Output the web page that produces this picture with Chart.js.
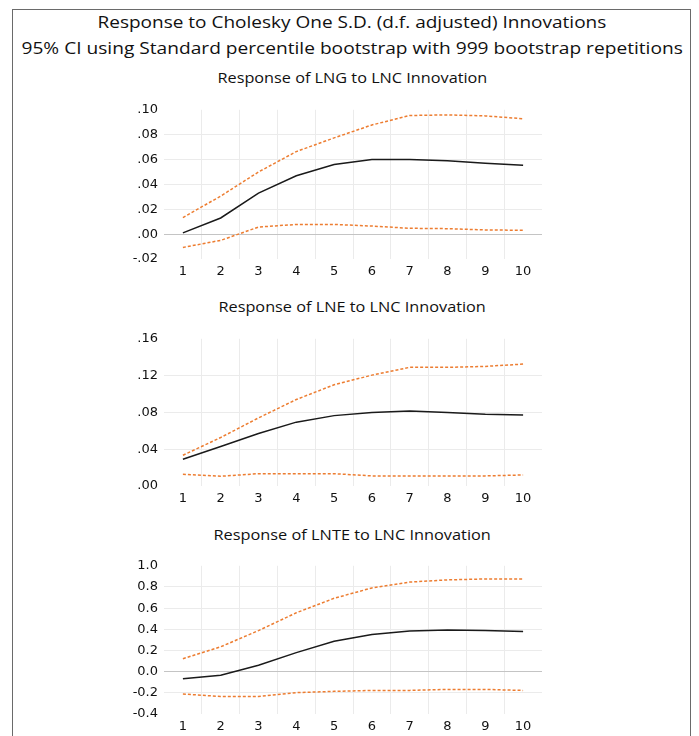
<!DOCTYPE html>
<html>
<head>
<meta charset="utf-8">
<script src="https://cdn.jsdelivr.net/npm/chart.js@4"></script>
<style>
  body { margin: 0; background: #fff; width: 699px; height: 736px; overflow: hidden; position: relative; }
  .frame { position: absolute; left: 12px; top: 9px; width: 679px; height: 760px; border: 1.5px solid #6a6a6a; box-sizing: border-box; }
  .ttl { position: absolute; white-space: nowrap; font-family: "Open Sans", sans-serif; color: #111; line-height: 20px; transform-origin: center center; }
  canvas { position: absolute; left: 0; }
</style>
</head>
<body>
<div class="frame"></div>
<canvas id="c1" width="620" height="187" style="top:96px"></canvas>
<canvas id="c2" width="620" height="185" style="top:325px"></canvas>
<canvas id="c3" width="620" height="186" style="top:552px"></canvas>
<script>
// periods after the shock
const steps = ['1', '2', '3', '4', '5', '6', '7', '8', '9', '10'];

// LNG response to LNC
const lngResp  = [0.001, 0.013, 0.033, 0.047, 0.056, 0.060, 0.060, 0.059, 0.057, 0.0555];
const lngUpper = [0.0133, 0.0306, 0.050, 0.0664, 0.0774, 0.0878, 0.0954, 0.0959, 0.0951, 0.0928];
const lngLower = [-0.0107, -0.005, 0.0057, 0.0078, 0.0078, 0.0065, 0.0047, 0.0044, 0.0034, 0.0031];
const lngTicks = [-0.02, 0.00, 0.02, 0.04, 0.06, 0.08, 0.10];
const lngTickLabels = ['-.02', '.00', '.02', '.04', '.06', '.08', '.10'];

// LNE response to LNC
const lneResp  = [0.029, 0.043, 0.057, 0.0694, 0.0765, 0.080, 0.0814, 0.080, 0.0779, 0.0772];
const lneUpper = [0.0334, 0.0527, 0.074, 0.094, 0.110, 0.1205, 0.129, 0.129, 0.130, 0.1325];
const lneLower = [0.0127, 0.0106, 0.0134, 0.0134, 0.0134, 0.011, 0.011, 0.011, 0.011, 0.012];
const lneTicks = [0.00, 0.04, 0.08, 0.12, 0.16];
const lneTickLabels = ['.00', '.04', '.08', '.12', '.16'];

// LNTE response to LNC
const lnteResp  = [-0.067, -0.034, 0.061, 0.180, 0.287, 0.351, 0.385, 0.394, 0.388, 0.379];
const lnteUpper = [0.122, 0.235, 0.388, 0.556, 0.693, 0.791, 0.846, 0.867, 0.876, 0.876];
const lnteLower = [-0.211, -0.235, -0.235, -0.198, -0.186, -0.177, -0.177, -0.168, -0.168, -0.177];
const lnteTicks = [-0.4, -0.2, 0.0, 0.2, 0.4, 0.6, 0.8, 1.0];
const lnteTickLabels = ['-0.4', '-0.2', '0.0', '0.2', '0.4', '0.6', '0.8', '1.0'];

const mainTitle1 = 'Response to Cholesky One S.D. (d.f. adjusted) Innovations';
const mainTitle2 = '95% CI using Standard percentile bootstrap with 999 bootstrap repetitions';
const panelTitles = ['Response of LNG to LNC Innovation', 'Response of LNE to LNC Innovation', 'Response of LNTE to LNC Innovation'];

const orange = '#ed7d31';
const gridGray = '#ebebeb';
const zeroGray = '#c4c4c4';

function placeTitle(text, cy, size, targetW) {
    const el = document.createElement('div');
    el.className = 'ttl';
    el.style.fontSize = size + 'px';
    el.textContent = text;
    document.body.appendChild(el);
    const w = el.offsetWidth;
    el.style.left = (352 - w / 2) + 'px';
    el.style.top = (cy - 10) + 'px';
    el.style.transform = 'scaleX(' + (targetW / w) + ')';
}

placeTitle(mainTitle1, 22, 16.5, 509);
placeTitle(mainTitle2, 48, 16.5, 661);
placeTitle(panelTitles[0], 78, 14.5, 270);
placeTitle(panelTitles[1], 307, 14.5, 267);
placeTitle(panelTitles[2], 535, 14.5, 277);

function makePanel(id, resp, upper, lower, tickVals, tickLabels) {
    const lastIdx = tickVals.length - 1;
    new Chart(document.getElementById(id), {
        type: 'line',
        data: {
            labels: steps,
            datasets: [
                { data: upper, borderColor: orange, borderWidth: 1.5, borderDash: [3, 2], pointRadius: 0, fill: false },
                { data: lower, borderColor: orange, borderWidth: 1.5, borderDash: [3, 2], pointRadius: 0, fill: false },
                { data: resp, borderColor: '#1a1a1a', borderWidth: 1.5, pointRadius: 0, fill: false }
            ]
        },
        options: {
            responsive: false,
            animation: false,
            layout: { padding: { top: 10, right: 78, left: 0, bottom: 0 } },
            plugins: { legend: { display: false }, tooltip: { enabled: false } },
            scales: {
                x: {
                    offset: true,
                    border: { display: false },
                    grid: {
                        offset: true,
                        drawTicks: false,
                        color: (c) => (c.index >= 1 && c.index <= 9) ? gridGray : 'rgba(0,0,0,0)'
                    },
                    ticks: { padding: 5, color: '#111', font: { family: 'DejaVu Sans', size: 13 } },
                    afterFit: (s) => { s.height = 24; }
                },
                y: {
                    min: tickVals[0],
                    max: tickVals[lastIdx],
                    border: { display: false },
                    afterBuildTicks: (s) => { s.ticks = tickVals.map(v => ({ value: v })); },
                    grid: {
                        drawTicks: false,
                        color: (c) => {
                            if (c.index === 0 || c.index === lastIdx) return 'rgba(0,0,0,0)';
                            return tickVals[c.index] === 0 ? zeroGray : gridGray;
                        }
                    },
                    ticks: {
                        padding: 6,
                        color: '#111',
                        font: { family: 'DejaVu Sans', size: 13 },
                        callback: (v, i) => tickLabels[i]
                    },
                    afterFit: (s) => { s.width = 164; }
                }
            }
        }
    });
}

makePanel('c1', lngResp, lngUpper, lngLower, lngTicks, lngTickLabels);
makePanel('c2', lneResp, lneUpper, lneLower, lneTicks, lneTickLabels);
makePanel('c3', lnteResp, lnteUpper, lnteLower, lnteTicks, lnteTickLabels);
</script>
</body>
</html>
